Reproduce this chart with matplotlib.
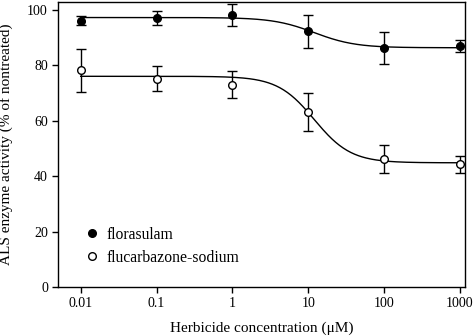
import numpy as np
import matplotlib
matplotlib.use("Agg")
import matplotlib.pyplot as plt

plt.rcParams['font.family'] = ['Liberation Serif', 'DejaVu Serif']

conc = [0.01, 0.1, 1, 10, 100, 1000]

flor_mean = [96.0, 97.1, 98.1, 92.2, 86.1, 87.0]
flor_err = [1.6, 2.5, 4.0, 6.0, 5.8, 2.1]

fluc_mean = [78.1, 75.1, 73.0, 63.0, 46.1, 44.3]
fluc_err = [7.8, 4.5, 4.8, 6.8, 5.0, 3.0]

# fitted log-logistic parameters: top, bottom, EC50, slope
flor_fit = (97.2, 86.3, 12.0, 1.6)
fluc_fit = (76.0, 44.8, 12.0, 1.8)


def loglogistic(x, top, bottom, ec50, h):
    return bottom + (top - bottom) / (1 + (x / ec50) ** h)


fig = plt.figure(figsize=(4.74, 3.36), dpi=100)
ax = fig.add_axes([58.3 / 474, 1 - 287 / 336, (465 - 58.3) / 474, (287 - 2) / 336])

xs = np.logspace(-2, 3, 300)
ax.plot(xs, loglogistic(xs, *flor_fit), color='black', lw=1.0, zorder=1)
ax.plot(xs, loglogistic(xs, *fluc_fit), color='black', lw=1.0, zorder=1)

ax.errorbar(conc, flor_mean, yerr=flor_err, fmt='o', color='black', mfc='black',
            ms=5.5, capsize=3.8, elinewidth=1.0, capthick=1.0, label='florasulam', zorder=3)
ax.errorbar(conc, fluc_mean, yerr=fluc_err, fmt='o', color='black', mfc='white',
            ms=5.5, capsize=3.8, elinewidth=1.0, capthick=1.0, label='flucarbazone-sodium', zorder=3)

ax.set_xscale('log')
ax.set_xlim(0.00507, 1164)
ax.set_ylim(0, 102.8)
ax.set_xticks(conc)
ax.set_xticklabels(['0.01', '0.1', '1', '10', '100', '1000'])
ax.minorticks_off()
ax.set_yticks([0, 20, 40, 60, 80, 100])
ax.tick_params(direction='out', length=4, width=1, labelsize=10, top=False, right=False)

for s in ax.spines.values():
    s.set_linewidth(1.0)

ax.set_xlabel('Herbicide concentration (\u03bcM)', fontsize=11, labelpad=8)
ax.set_ylabel('ALS enzyme activity (% of nontreated)', fontsize=11, labelpad=10)

handles, labels = ax.get_legend_handles_labels()
handles = [h[0] for h in handles]
ax.legend(handles, labels, loc='lower left', bbox_to_anchor=(0.025, 0.025), frameon=False,
          fontsize=11.3, handletextpad=0.3, handlelength=1.2, labelspacing=0.45)

fig.savefig('out.png', dpi=100)
